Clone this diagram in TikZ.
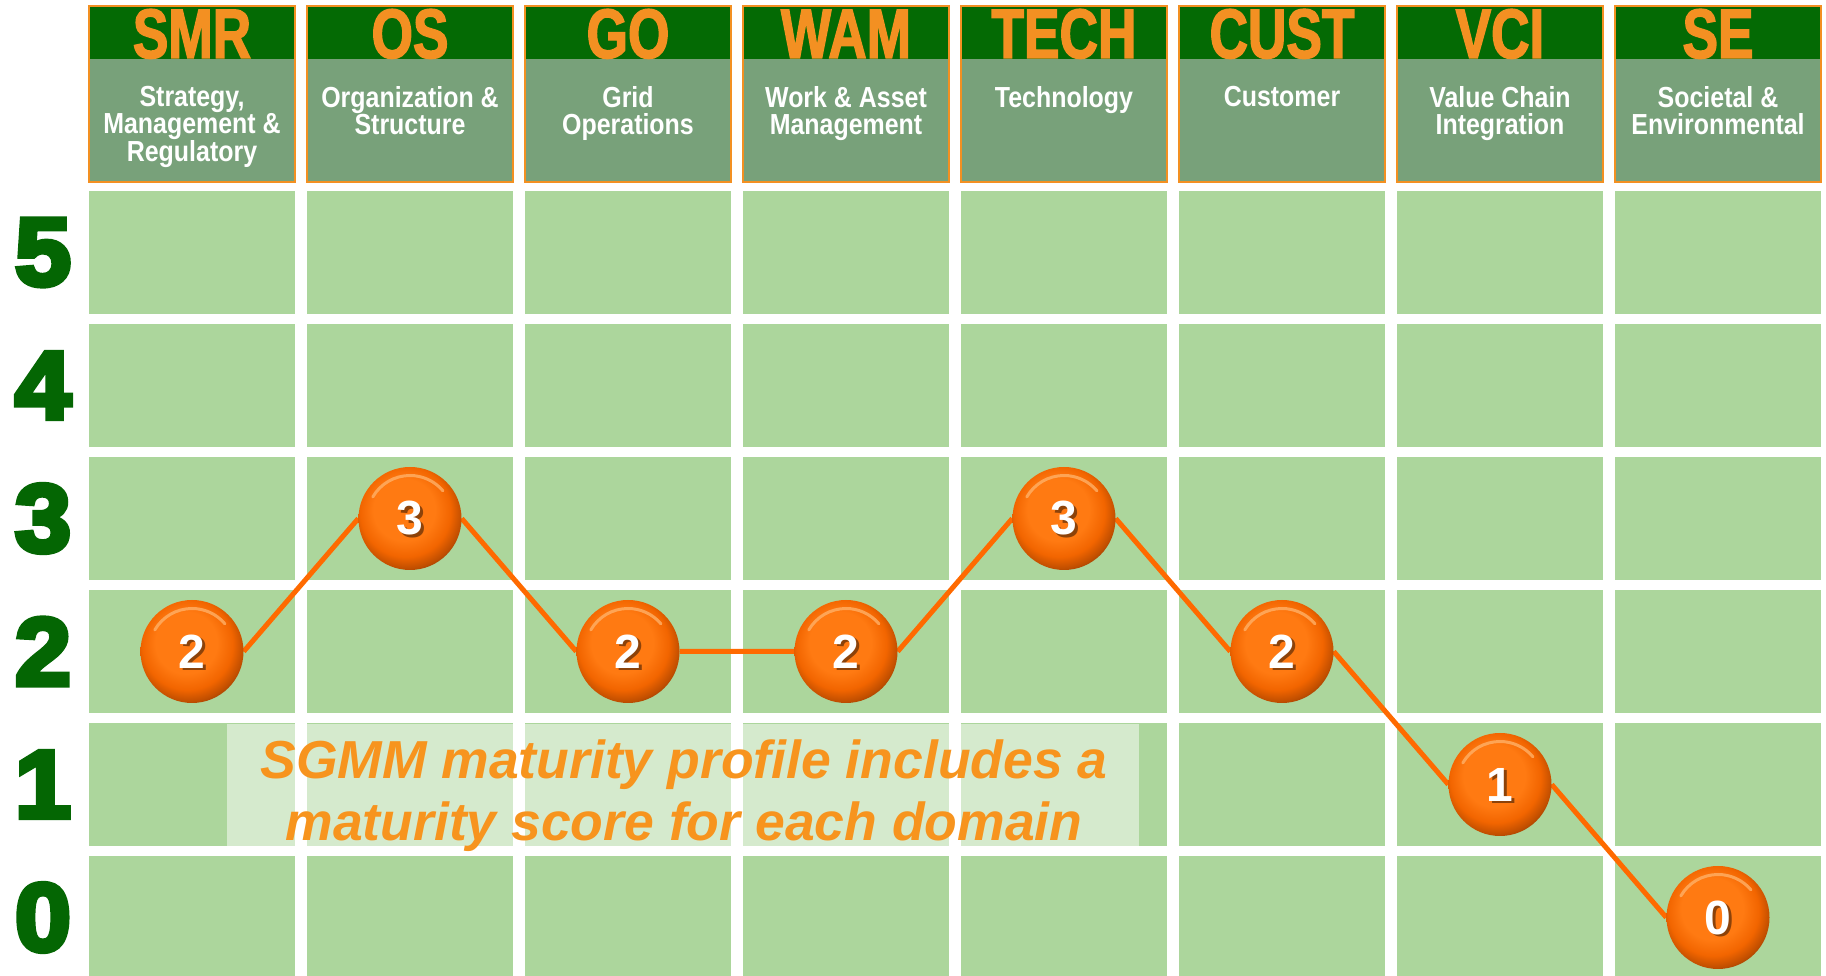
\documentclass[tikz,border=0pt]{standalone}
\usepackage{fontspec}
\setmainfont{Liberation Sans}
\newfontfamily\abbrfont[FakeStretch=0.76]{Liberation Sans}[BoldFeatures={FakeBold=2}]
\newfontfamily\bodyfont[FakeStretch=0.86]{Liberation Sans}
\newfontfamily\heavyfont[FakeStretch=1.05]{Liberation Sans}[BoldFeatures={FakeBold=5.5}]
\definecolor{hband}{HTML}{046A04}
\definecolor{hbody}{HTML}{78A17A}
\definecolor{hor}{HTML}{F39022}
\definecolor{cellc}{HTML}{ACD69C}
\definecolor{rowg}{HTML}{046603}
\definecolor{ballA}{HTML}{FF7A12}
\definecolor{ballB}{HTML}{F26500}
\definecolor{ballC}{HTML}{C04E00}
\definecolor{ballD}{HTML}{7A3306}
\definecolor{ballHL}{HTML}{FFB56E}
\definecolor{connc}{HTML}{FF6A00}
\definecolor{notec}{HTML}{F7941E}
\pgfdeclareradialshading{ballshade}{\pgfpoint{-4bp}{6bp}}{color(0bp)=(ballA); color(15bp)=(ballA); color(22bp)=(ballB); color(27bp)=(ballC); color(31bp)=(ballD); color(50bp)=(ballD)}
\pgfdeclarelayer{grid}
\pgfdeclarelayer{lines}
\pgfsetlayers{grid,lines,main}
\begin{document}
\begin{tikzpicture}[x=1pt,y=1pt,
  abbr/.style={text=hor, font=\abbrfont\bfseries\fontsize{70}{70}\selectfont, anchor=base, inner sep=0},
  body/.style={text=white, font=\bodyfont\bfseries\fontsize{29}{27.5}\selectfont, anchor=north, align=center, inner sep=0},
  rowlab/.style={text=rowg, font=\heavyfont\bfseries\fontsize{96}{96}\selectfont, inner sep=0},
  ball/.style={circle, minimum size=103, inner sep=0, shading=ballshade},
  hl/.style={draw=ballHL, line width=3, draw opacity=0.75, line cap=round},
  num/.style={text=white, font=\bfseries\fontsize{48}{48}\selectfont, inner sep=0},
  numsh/.style={text=black, text opacity=0.45, font=\bfseries\fontsize{48}{48}\selectfont, inner sep=0},
  conn/.style={draw=connc, line width=5},
  notebg/.style={fill=white, fill opacity=0.5, draw=none, inner sep=0, minimum width=912, minimum height=132},
  note/.style={text=notec, font=\bfseries\itshape\fontsize{53.5}{62}\selectfont, align=center, anchor=north, inner sep=0}
]
\useasboundingbox (0,0) rectangle (1826,976);
\begin{pgfonlayer}{grid}
\fill[white] (0,0) rectangle (1826,976);
\foreach \i in {0,...,7}{
  \foreach \s in {0,...,5}{
    \fill[cellc] ({89+218*\i},{662-133*(5-\s)}) rectangle ++(206,123);
  }
}
\end{pgfonlayer}
% headers
\foreach \i/\ab/\bd in {0/SMR/{Strategy,\\Management \&\\Regulatory},1/OS/{Organization \&\\Structure},2/GO/{Grid\\Operations},3/WAM/{Work \& Asset\\Management},4/TECH/{Technology},5/CUST/{Customer},6/VCI/{Value Chain\\Integration},7/SE/{Societal \&\\Environmental}}{
  \fill[hbody] ({89+218*\i},794) rectangle ++(206,176);
  \fill[hband] ({89+218*\i},917) rectangle ++(206,53);
  \draw[hor, line width=2] ({89+218*\i},794) rectangle ++(206,176);
  \node[abbr] (a\i) at ({192+218*\i},918) {\ab};
  \node[body] (d\i) at ({192+218*\i},890) {\bd};
}
% row labels
\foreach \s in {0,...,5}{
  \node[rowlab] (r\s) at (43,{723.5-133*(5-\s)}) {\s};
}
% note
\node[notebg] (nb) at (683,186) {};
\node[note] (note) at (684,236) {SGMM maturity profile includes a\\maturity score for each domain};
% balls
\foreach \i/\s in {0/2,1/3,2/2,3/2,4/3,5/2,6/1,7/0}{
  \node[ball] (b\i) at ({192+218*\i},{723.5-133*(5-\s)}) {};
  \draw[hl] ([shift={(150:43)}]b\i.center) arc[start angle=150, end angle=40, radius=43];
  \node[numsh] (ns\i) at ([shift={(2.5,-2.5)}]b\i.center) {\s};
  \node[num] (n\i) at (b\i.center) {\s};
}
\begin{pgfonlayer}{lines}
\draw[conn] (b0.east) -- (b1.west) (b1.east) -- (b2.west) (b2.east) -- (b3.west)
  (b3.east) -- (b4.west) (b4.east) -- (b5.west) (b5.east) -- (b6.west) (b6.east) -- (b7.west);
\end{pgfonlayer}
\end{tikzpicture}
\end{document}
